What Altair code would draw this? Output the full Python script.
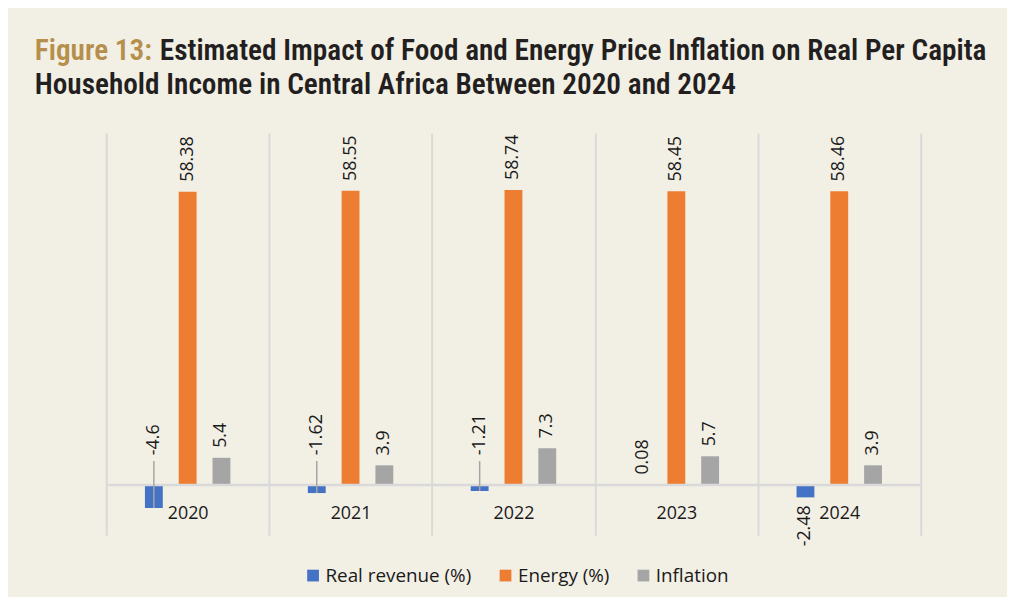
import altair as alt
import pandas as pd

years = ["2020", "2021", "2022", "2023", "2024"]
series = ["Real revenue (%)", "Energy (%)", "Inflation"]
real_revenue = [-4.6, -1.62, -1.21, 0.08, -2.48]
energy = [58.38, 58.55, 58.74, 58.45, 58.46]
inflation = [5.4, 3.9, 7.3, 5.7, 3.9]
colors = ["#4472C4", "#ED7D31", "#A5A5A5"]

title_prefix = "Figure 13:"
title_line1 = "Estimated Impact of Food and Energy Price Inflation on Real Per Capita"
title_line2 = "Household Income in Central Africa Between 2020 and 2024"

rows = []
for s, vals in zip(series, [real_revenue, energy, inflation]):
    for yr, v in zip(years, vals):
        rows.append({"year": yr, "series": s, "value": v, "label": f"{v:g}"})
df = pd.DataFrame(rows)

LF = "Open Sans"
TF = "'Noto Sans Condensed', 'Roboto Condensed', 'Liberation Sans Narrow', 'DejaVu Sans Condensed', sans-serif"
TXT = "#1a1a1a"
GRID = "#D9D9D9"

X = alt.X("year:N", sort=years,
          scale=alt.Scale(type="band", paddingInner=0, paddingOuter=0),
          axis=alt.Axis(title=None, domain=False, ticks=False, grid=True,
                        tickBand="extent", gridColor=GRID, gridWidth=2,
                        labelFont=LF, labelFontSize=18, labelColor=TXT,
                        labelPadding=-31, labelAngle=0))
XO = alt.XOffset("series:N", sort=series,
                 scale=alt.Scale(type="band", paddingInner=0.18, paddingOuter=1))
YS = alt.Scale(domain=[-10, 70], nice=False, zero=False)
Y = alt.Y("value:Q", scale=YS, axis=None)
Y0 = alt.Y("zero:Q", scale=YS, axis=None)

base = alt.Chart(df).transform_calculate(zero="0")

bars = base.mark_bar(width=18).encode(
    x=X, xOffset=XO, y=Y,
    color=alt.Color("series:N", sort=series,
                    scale=alt.Scale(domain=series, range=colors),
                    legend=alt.Legend(title=None, orient="none", legendX=199, legendY=436,
                                      direction="horizontal", symbolType="square",
                                      symbolSize=140, symbolStrokeWidth=0,
                                      labelFont=LF, labelFontSize=19, labelColor=TXT,
                                      columnPadding=24, labelOffset=3, padding=0)),
)

zero = alt.Chart(pd.DataFrame({"zero": [0]})).mark_rule(color=GRID, strokeWidth=2.5).encode(y=Y0)

leader = base.transform_filter("datum.value < 0 && datum.year != '2024'").mark_rule(
    color="#A5A5A5", strokeWidth=1.5, y2Offset=-24
).encode(x=X, xOffset=XO, y=Y, y2="zero:Q")

pos_labels = base.transform_filter("datum.value >= 0").mark_text(
    angle=270, align="left", baseline="middle", dx=10, font=LF, fontSize=18, color=TXT
).encode(x=X, xOffset=XO, y=Y, text="label:N")

lead_labels = base.transform_filter("datum.value < 0 && datum.year != '2024'").mark_text(
    angle=270, align="left", baseline="middle", dx=30, font=LF, fontSize=18, color=TXT
).encode(x=X, xOffset=XO, y=Y0, text="label:N")

below_labels = base.transform_filter("datum.value < 0 && datum.year == '2024'").mark_text(
    angle=270, align="right", baseline="middle", dx=-8, font=LF, fontSize=18, color=TXT
).encode(x=X, xOffset=XO, y=Y, text="label:N")

TS = 29.5
t0 = alt.Chart(pd.DataFrame({"t": [title_prefix]})).mark_text(
    align="left", baseline="alphabetic", font=TF, fontSize=TS, fontWeight=600, color="#B58F4B"
).encode(x=alt.value(-72), y=alt.value(-74), text="t:N")
t1 = alt.Chart(pd.DataFrame({"t": [title_line1]})).mark_text(
    align="left", baseline="alphabetic", font=TF, fontSize=TS, fontWeight=600, color="#231F20"
).encode(x=alt.value(54), y=alt.value(-74), text="t:N")
t2 = alt.Chart(pd.DataFrame({"t": [title_line2]})).mark_text(
    align="left", baseline="alphabetic", font=TF, fontSize=TS, fontWeight=600, color="#231F20"
).encode(x=alt.value(-72), y=alt.value(-40), text="t:N")

chart = alt.layer(bars, zero, leader, pos_labels, lead_labels, below_labels, t0, t1, t2).properties(
    width=821, height=405,
    padding={"left": 99, "top": 124, "right": 87, "bottom": 60},
    autosize=alt.AutoSizeParams(type="none"),
    background="#F2EFE5",
).configure_view(stroke=None)

chart.save("out.html", embed_options={"renderer": "svg", "actions": False})
